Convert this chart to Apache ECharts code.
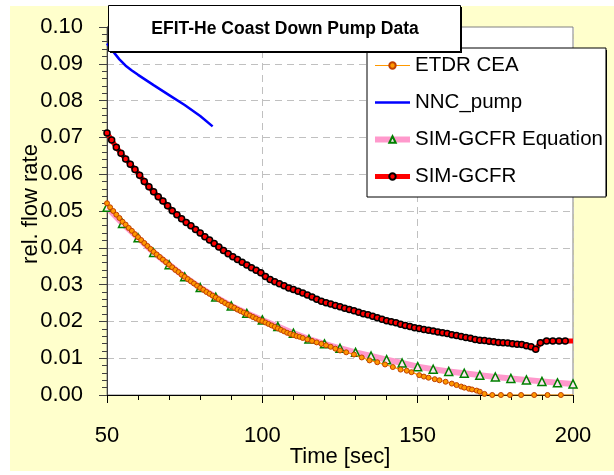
<!DOCTYPE html>
<html>
<head>
<meta charset="utf-8">
<script src="https://cdn.jsdelivr.net/npm/echarts@6/dist/echarts.min.js"></script>
<style>
html, body { margin: 0; padding: 0; background: #fff; }
#bg { position: absolute; left: 10px; top: 6px; width: 604px; height: 465px; background: #ffffcc; }
#myChart { position: absolute; left: 0; top: 0; width: 614px; height: 475px; }
</style>
</head>
<body>
<div id="bg"></div>
<div id="myChart"></div>
<script>
// ETDR CEA
const etdrTime = [50, 51, 52, 53, 54, 55, 56, 57, 58, 59, 60, 61, 62, 63, 64, 65, 66, 67, 68, 69,
  70, 71, 72, 73, 74, 75, 76, 77, 78, 79, 80, 81, 82, 83, 84, 85, 86, 87, 88, 89,
  90, 91, 92, 93, 94, 95, 96, 97, 98, 99, 100, 101, 102, 103, 104, 105, 106, 107, 108, 109,
  110, 111, 112, 113, 114.5, 116, 117.5, 119, 120.5, 122, 123.5, 125, 127, 129.5, 132, 134.5, 137, 139.5, 142, 144.5,
  146.5, 148, 150.5, 152, 153.5, 155.5, 157, 159, 161, 162.5, 164, 165, 166.5, 167.5, 169, 170, 171.5,
  174, 176.8, 179.7, 183.3, 187.5, 191.8, 196.1, 200]
const etdrFlow = [0.0521, 0.0510, 0.0500, 0.0490, 0.0481, 0.0471, 0.0463, 0.0454, 0.0446, 0.0437, 0.0429, 0.0421, 0.0413, 0.0405, 0.0397, 0.0389, 0.0382, 0.0375, 0.0368, 0.0361,
  0.0354, 0.0347, 0.0340, 0.0334, 0.0327, 0.0321, 0.0315, 0.0309, 0.0303, 0.0297, 0.0291, 0.0286, 0.0280, 0.0275, 0.0270, 0.0265, 0.0260, 0.0255, 0.0250, 0.0245,
  0.0241, 0.0237, 0.0232, 0.0228, 0.0224, 0.0220, 0.0216, 0.0212, 0.0208, 0.0204, 0.0201, 0.0197, 0.0193, 0.0189, 0.0185, 0.0181, 0.0177, 0.0173, 0.0169, 0.0166,
  0.0163, 0.0160, 0.0158, 0.0155, 0.0151, 0.0147, 0.0143, 0.0139, 0.0135, 0.0131, 0.0126, 0.0121, 0.0116, 0.0110, 0.0102, 0.0094, 0.0089, 0.0083, 0.0076, 0.0069,
  0.0066, 0.0062, 0.0054, 0.0050, 0.0047, 0.0043, 0.0040, 0.0036, 0.0031, 0.0027, 0.0023, 0.0020, 0.0017, 0.0015, 0.0012, 0.0009, 0.0003,
  0, 0, 0, 0, 0, 0, 0, 0]

// NNC_pump
const nncTime = [50, 52, 54, 56, 58, 60, 65, 70, 75, 80, 84]
const nncFlow = [0.0955, 0.0933, 0.0912, 0.0895, 0.0882, 0.0870, 0.0842, 0.0815, 0.0788, 0.0758, 0.0730]

// SIM-GCFR Equation
const eqTime = [50, 55, 60, 65, 70, 75, 80, 85, 90, 95, 100, 105, 110, 115, 120, 125, 130, 135, 140, 145,
  150, 155, 160, 165, 170, 175, 180, 185, 190, 195, 200]
const eqFlow = [0.0510, 0.0466, 0.0427, 0.0387, 0.0354, 0.0321, 0.0292, 0.0266, 0.0242, 0.0222, 0.0204, 0.0186, 0.0168, 0.0152, 0.0139, 0.0127, 0.0116, 0.0106, 0.0096, 0.0087,
  0.0077, 0.0070, 0.0064, 0.0059, 0.0054, 0.0049, 0.0045, 0.0041, 0.0037, 0.0033, 0.0030]

// SIM-GCFR
const gcfrTime = [50, 51.5, 53, 54.5, 56, 57.5, 59, 60.5, 62, 63.5, 65, 66.5, 68, 69.5, 71, 72.5, 74, 75.5, 77, 78.5,
  80, 81.5, 83, 84.5, 86, 87.5, 89, 90.5, 92, 93.5, 95, 96.5, 98, 99.5, 101, 102.5, 104, 105.5, 107, 108.5,
  110, 111.5, 113, 114.5, 116, 117.5, 119, 120.5, 122, 123.5, 125, 126.5, 128, 129.5, 131, 132.5, 134, 135.5, 137, 138.5,
  140, 141.5, 143, 144.5, 146, 147.5, 149, 150.5, 152, 153.5, 155, 156.5, 158, 159.5, 161, 162.5, 164, 165.5, 167, 168.5,
  170, 171.5, 173, 174.5, 176, 177.5, 179, 180.5, 182, 183.5, 185, 186.5, 188, 189.5, 191.5, 193.5, 195.5, 197.5, 200]
const gcfrFlow = [0.0712, 0.0693, 0.0673, 0.0657, 0.0641, 0.0627, 0.0613, 0.0597, 0.0580, 0.0566, 0.0552, 0.0539, 0.0527, 0.0514, 0.0501, 0.0490, 0.0479, 0.0469, 0.0460, 0.0450,
  0.0440, 0.0430, 0.0421, 0.0412, 0.0402, 0.0393, 0.0384, 0.0376, 0.0368, 0.0361, 0.0353, 0.0346, 0.0339, 0.0332, 0.0322, 0.0314, 0.0308, 0.0302, 0.0297, 0.0291,
  0.0287, 0.0282, 0.0277, 0.0272, 0.0266, 0.0260, 0.0255, 0.0251, 0.0247, 0.0243, 0.0240, 0.0236, 0.0232, 0.0229, 0.0225, 0.0221, 0.0218, 0.0214, 0.0210, 0.0206,
  0.0202, 0.0199, 0.0196, 0.0192, 0.0189, 0.0186, 0.0183, 0.0181, 0.0178, 0.0176, 0.0174, 0.0171, 0.0169, 0.0167, 0.0164, 0.0162, 0.0159, 0.0156, 0.0154, 0.0151,
  0.0149, 0.0148, 0.0146, 0.0145, 0.0143, 0.0142, 0.0141, 0.0139, 0.0138, 0.0137, 0.0134, 0.0131, 0.0124, 0.0142, 0.0147, 0.0147, 0.0147, 0.0147, 0.0147]

const legendNames = ['ETDR CEA', 'NNC_pump', 'SIM-GCFR Equation', 'SIM-GCFR']
const chartTitle = 'EFIT-He Coast Down Pump Data'

const font = 'Liberation Sans, Arial, sans-serif'
const zip = (t, v) => t.map((x, i) => [x, v[i]])
// last point only carries the line to the axis end, no marker
const noLastMarker = (size, len) => (val, p) => (p.dataIndex === len - 1 ? 0 : size)

let myChart = echarts.init(document.getElementById('myChart'))
myChart.setOption({
  animation: false,
  textStyle: { fontFamily: font },
  grid: {
    left: 107,
    top: 27,
    right: 41,
    bottom: 80,
    outerBoundsMode: 'none',
    show: true,
    backgroundColor: '#ffffff',
    borderColor: '#808080',
    borderWidth: 1,
  },
  graphic: [
    // title box with its drop shadow
    { type: 'rect', z: 100, shape: { x: 110, y: 7, width: 352, height: 46 }, style: { fill: '#000' } },
    { type: 'rect', z: 101, shape: { x: 108.5, y: 5.5, width: 352, height: 46 }, style: { fill: '#fff', stroke: '#000', lineWidth: 1 } },
    {
      type: 'text', z: 102, x: 285, y: 29,
      style: { text: chartTitle, font: 'bold 17.5px ' + font, fill: '#000', align: 'center', verticalAlign: 'middle' },
    },
    // legend shadow
    { type: 'rect', z: 1, shape: { x: 369, y: 50, width: 238, height: 146 }, style: { fill: '#000' } },
  ],
  legend: {
    data: [
      { name: legendNames[0], lineStyle: { width: 1.2 } },
      { name: legendNames[1], lineStyle: { width: 2.5 }, itemStyle: { opacity: 0 } },
      { name: legendNames[2], lineStyle: { width: 6 } },
      { name: legendNames[3], lineStyle: { width: 5 } },
    ],
    orient: 'vertical',
    left: 367,
    top: 48,
    z: 5,
    padding: [7, 3, 10, 5],
    itemGap: 16,
    itemWidth: 35,
    itemHeight: 8,
    backgroundColor: '#ffffff',
    borderColor: '#000',
    borderWidth: 1,
    textStyle: { fontSize: 20.5, color: '#000', fontFamily: font },
  },
  xAxis: {
    type: 'value',
    min: 50,
    max: 200,
    interval: 50,
    name: 'Time [sec]',
    nameLocation: 'middle',
    nameGap: 51,
    nameMoveOverlap: false,
    nameTextStyle: { fontSize: 22, color: '#000' },
    axisLine: { lineStyle: { color: '#000', width: 1 } },
    axisTick: { length: 8, lineStyle: { color: '#000' } },
    minorTick: { show: true, splitNumber: 5, length: 5, lineStyle: { color: '#000' } },
    axisLabel: { fontSize: 22, color: '#000', margin: 30 },
    splitLine: { show: true, lineStyle: { color: '#c0c0c0', type: [7, 5] } },
  },
  yAxis: {
    type: 'value',
    min: 0,
    max: 0.1,
    interval: 0.01,
    name: 'rel. flow rate',
    nameLocation: 'middle',
    nameGap: 65,
    nameMoveOverlap: false,
    nameTextStyle: { fontSize: 22, color: '#000', padding: [0, 0, 0, 14] },
    axisLine: { show: true, lineStyle: { color: '#404040', width: 1 } },
    axisTick: { show: true, length: 8, lineStyle: { color: '#404040' } },
    minorTick: { show: true, splitNumber: 5, length: 5, lineStyle: { color: '#404040' } },
    axisLabel: { fontSize: 22, color: '#000', margin: 24, formatter: (v) => v.toFixed(2) },
    splitLine: { show: true, lineStyle: { color: '#c0c0c0', type: [7, 5] } },
  },
  series: [
    {
      name: 'SIM-GCFR Equation',
      type: 'line',
      z: 2,
      data: zip(eqTime, eqFlow),
      symbol: 'triangle',
      symbolSize: 8,
      showAllSymbol: true,
      lineStyle: { color: '#ff99cc', width: 6 },
      itemStyle: { color: '#fde6f1', borderColor: '#008000', borderWidth: 1.5 },
    },
    {
      name: 'ETDR CEA',
      type: 'line',
      z: 3,
      data: zip(etdrTime, etdrFlow),
      symbol: 'circle',
      symbolSize: noLastMarker(5, etdrTime.length),
      showAllSymbol: true,
      lineStyle: { color: '#ff9900', width: 1.2 },
      itemStyle: { color: '#ff9900', borderColor: '#c04000', borderWidth: 1 },
    },
    {
      name: 'NNC_pump',
      type: 'line',
      z: 4,
      data: zip(nncTime, nncFlow),
      symbol: 'none',
      lineStyle: { color: '#0000ff', width: 2.5 },
      itemStyle: { color: '#0000ff' },
    },
    {
      name: 'SIM-GCFR',
      type: 'line',
      z: 5,
      data: zip(gcfrTime, gcfrFlow),
      symbol: 'circle',
      symbolSize: noLastMarker(6, gcfrTime.length),
      showAllSymbol: true,
      lineStyle: { color: '#ff0000', width: 5 },
      itemStyle: { color: '#ff0000', borderColor: '#000', borderWidth: 1.5 },
    },
  ],
})
</script>
</body>
</html>
